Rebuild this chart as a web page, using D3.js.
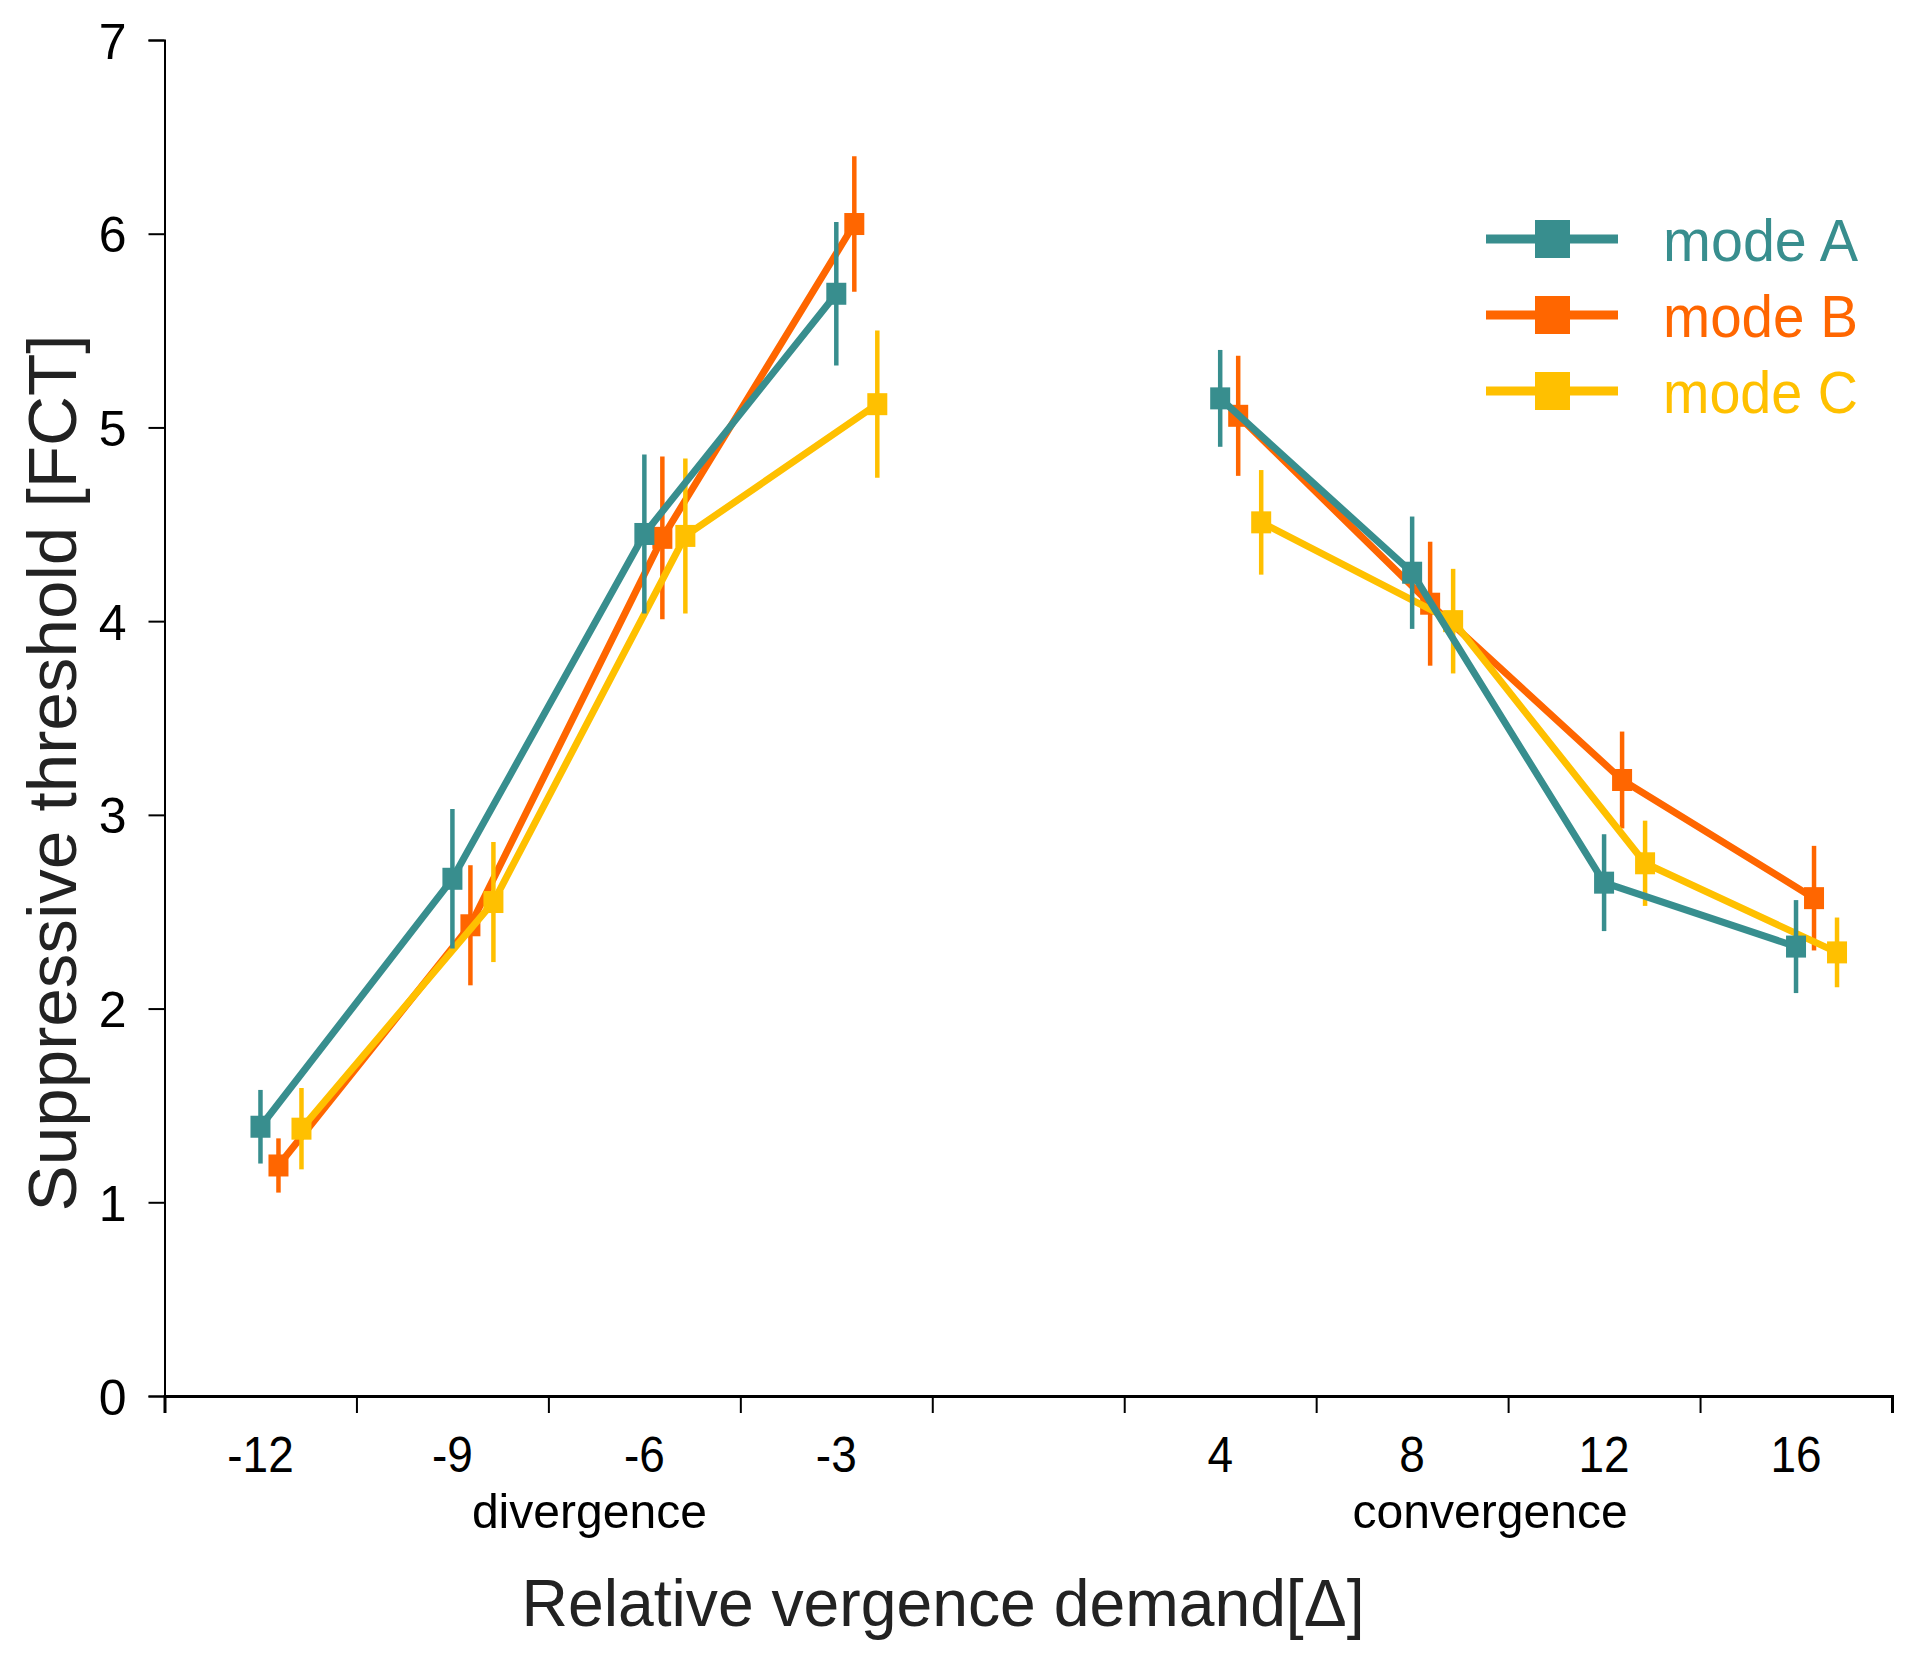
<!DOCTYPE html>
<html>
<head>
<meta charset="utf-8">
<script src="https://cdn.jsdelivr.net/npm/d3@7"></script>
<style>
  body { margin: 0; background: #fff; }
  text { font-family: "Liberation Sans", Arial, sans-serif; }
</style>
</head>
<body>
<svg width="1910" height="1665"></svg>
<script>
// categories (the empty slot is the gap between divergence and convergence)
var categories = ["-12", "-9", "-6", "-3", "", "4", "8", "12", "16"];
var pointCats = ["-12", "-9", "-6", "-3", "4", "8", "12", "16"];
var groups = ["div", "div", "div", "div", "conv", "conv", "conv", "conv"];

var seriesNames = ["mode A", "mode B", "mode C"];
var modeA = [1.39, 2.67, 4.45, 5.69, 5.15, 4.25, 2.65, 2.32];
var modeB = [1.19, 2.43, 4.43, 6.05, 5.06, 4.09, 3.18, 2.57];
var modeC = [1.38, 2.55, 4.44, 5.12, 4.51, 4.00, 2.75, 2.29];
var errA = [0.19, 0.36, 0.41, 0.37, 0.25, 0.29, 0.25, 0.24];
var errB = [0.14, 0.31, 0.42, 0.35, 0.31, 0.32, 0.25, 0.27];
var errC = [0.21, 0.31, 0.40, 0.38, 0.27, 0.27, 0.22, 0.18];
var yTicks = [0, 1, 2, 3, 4, 5, 6, 7];

var colors = ["#388e8e", "#ff6600", "#ffc000"];
var offsets = [0, 18, 41];

(function() {
var svg = d3.select("svg"),
    margin = {left: 164.5, right: 1892, top: 40, bottom: 1396};

var x = d3.scaleBand()
    .domain(categories)
    .range([margin.left, margin.right])
    .paddingInner(0)
    .paddingOuter(0);

var y = d3.scaleLinear()
    .domain([0, 7])
    .range([margin.bottom, margin.top]);

// boundary ticks under the x axis
var xb = d3.scaleLinear().domain([0, categories.length]).range([margin.left, margin.right]);

var series = [
  {name: seriesNames[0], values: modeA, err: errA, color: colors[0], off: offsets[0]},
  {name: seriesNames[1], values: modeB, err: errB, color: colors[1], off: offsets[1]},
  {name: seriesNames[2], values: modeC, err: errC, color: colors[2], off: offsets[2]}
];

// y axis
var yAxis = svg.append("g")
    .attr("transform", "translate(" + margin.left + ",0)")
    .call(d3.axisLeft(y).tickValues(yTicks).tickSize(16).tickPadding(22).tickFormat(d3.format("d")));
yAxis.select(".domain").attr("stroke", "#000").attr("stroke-width", 2);
yAxis.selectAll(".tick line").attr("stroke", "#000").attr("stroke-width", 2);
yAxis.selectAll(".tick text")
    .attr("font-size", 50)
    .attr("fill", "#000")
    .attr("dy", "0.36em")
    .style("font-family", "'Liberation Sans', Arial, sans-serif");

// x axis: line + boundary ticks
var xTickAxis = svg.append("g")
    .attr("transform", "translate(0," + margin.bottom + ")")
    .call(d3.axisBottom(xb).tickValues(d3.range(categories.length + 1)).tickSize(17).tickFormat(""));
xTickAxis.select(".domain").attr("stroke", "#000").attr("stroke-width", 3);
xTickAxis.selectAll(".tick line").attr("stroke", "#000").attr("stroke-width", 2);

// x category labels (slightly narrowed, centred on each band)
var xLabAxis = svg.append("g")
    .attr("transform", "translate(0," + margin.bottom + ")")
    .call(d3.axisBottom(x).tickSize(0).tickPadding(41));
xLabAxis.select(".domain").remove();
xLabAxis.selectAll(".tick text")
    .attr("font-size", 50)
    .attr("fill", "#000")
    .attr("dy", "0.71em")
    .attr("transform", "scale(0.92,1)")
    .style("font-family", "'Liberation Sans', Arial, sans-serif");

// group labels
svg.append("text")
    .attr("x", x("-6") + 41)
    .attr("y", 1528)
    .attr("text-anchor", "middle")
    .attr("font-size", 48)
    .attr("textLength", 235)
    .attr("lengthAdjust", "spacingAndGlyphs")
    .text("divergence");

svg.append("text")
    .attr("x", x("12") - 18)
    .attr("y", 1528)
    .attr("text-anchor", "middle")
    .attr("font-size", 48)
    .attr("textLength", 275)
    .attr("lengthAdjust", "spacingAndGlyphs")
    .text("convergence");

// axis titles
svg.append("text")
    .attr("x", 943)
    .attr("y", 1626)
    .attr("text-anchor", "middle")
    .attr("font-size", 66)
    .attr("fill", "#222")
    .attr("textLength", 843)
    .attr("lengthAdjust", "spacingAndGlyphs")
    .text("Relative vergence demand[Δ]");

svg.append("text")
    .attr("transform", "translate(76,773) rotate(-90)")
    .attr("text-anchor", "middle")
    .attr("font-size", 68)
    .attr("fill", "#222")
    .attr("textLength", 877)
    .attr("lengthAdjust", "spacingAndGlyphs")
    .text("Suppressive threshold [FCT]");

// lines, error bars and markers
var line = d3.line()
    .x(function(d) { return d.x; })
    .y(function(d) { return d.y; });

function pts(s) {
  return s.values.map(function(v, i) {
    return {
      x: x(pointCats[i]) + x.bandwidth() / 2 + s.off,
      y: y(v),
      lo: y(v - s.err[i]),
      hi: y(v + s.err[i]),
      g: groups[i]
    };
  });
}

var drawOrder = [1, 2, 0];
drawOrder.forEach(function(k) {
  var s = series[k];
  var p = pts(s);
  var gS = svg.append("g");
  ["div", "conv"].forEach(function(grp) {
    gS.append("path")
      .datum(p.filter(function(d) { return d.g === grp; }))
      .attr("fill", "none")
      .attr("stroke", s.color)
      .attr("stroke-width", 7)
      .attr("stroke-linejoin", "round")
      .attr("d", line);
  });
  gS.selectAll("line.err")
    .data(p)
    .enter().append("line")
    .attr("class", "err")
    .attr("x1", function(d) { return d.x; })
    .attr("x2", function(d) { return d.x; })
    .attr("y1", function(d) { return d.lo; })
    .attr("y2", function(d) { return d.hi; })
    .attr("stroke", s.color)
    .attr("stroke-width", 4.5);
  gS.selectAll("rect")
    .data(p)
    .enter().append("rect")
    .attr("x", function(d) { return d.x - 10; })
    .attr("y", function(d) { return d.y - 11; })
    .attr("width", 20)
    .attr("height", 22)
    .attr("fill", s.color);
});

// legend
var legend = svg.append("g")
    .selectAll("g")
    .data(series)
    .enter().append("g")
    .attr("transform", function(d, i) { return "translate(1486," + (239 + i * 76) + ")"; });

legend.append("line")
    .attr("x1", 0).attr("x2", 132)
    .attr("stroke", function(d) { return d.color; })
    .attr("stroke-width", 9);

legend.append("rect")
    .attr("x", 49).attr("y", -19)
    .attr("width", 35).attr("height", 38)
    .attr("fill", function(d) { return d.color; });

legend.append("text")
    .attr("x", 177)
    .attr("y", 0)
    .attr("dy", "0.36em")
    .attr("font-size", 60)
    .attr("textLength", 195)
    .attr("lengthAdjust", "spacingAndGlyphs")
    .attr("fill", function(d) { return d.color; })
    .text(function(d) { return d.name; });
})();
</script>
</body>
</html>
